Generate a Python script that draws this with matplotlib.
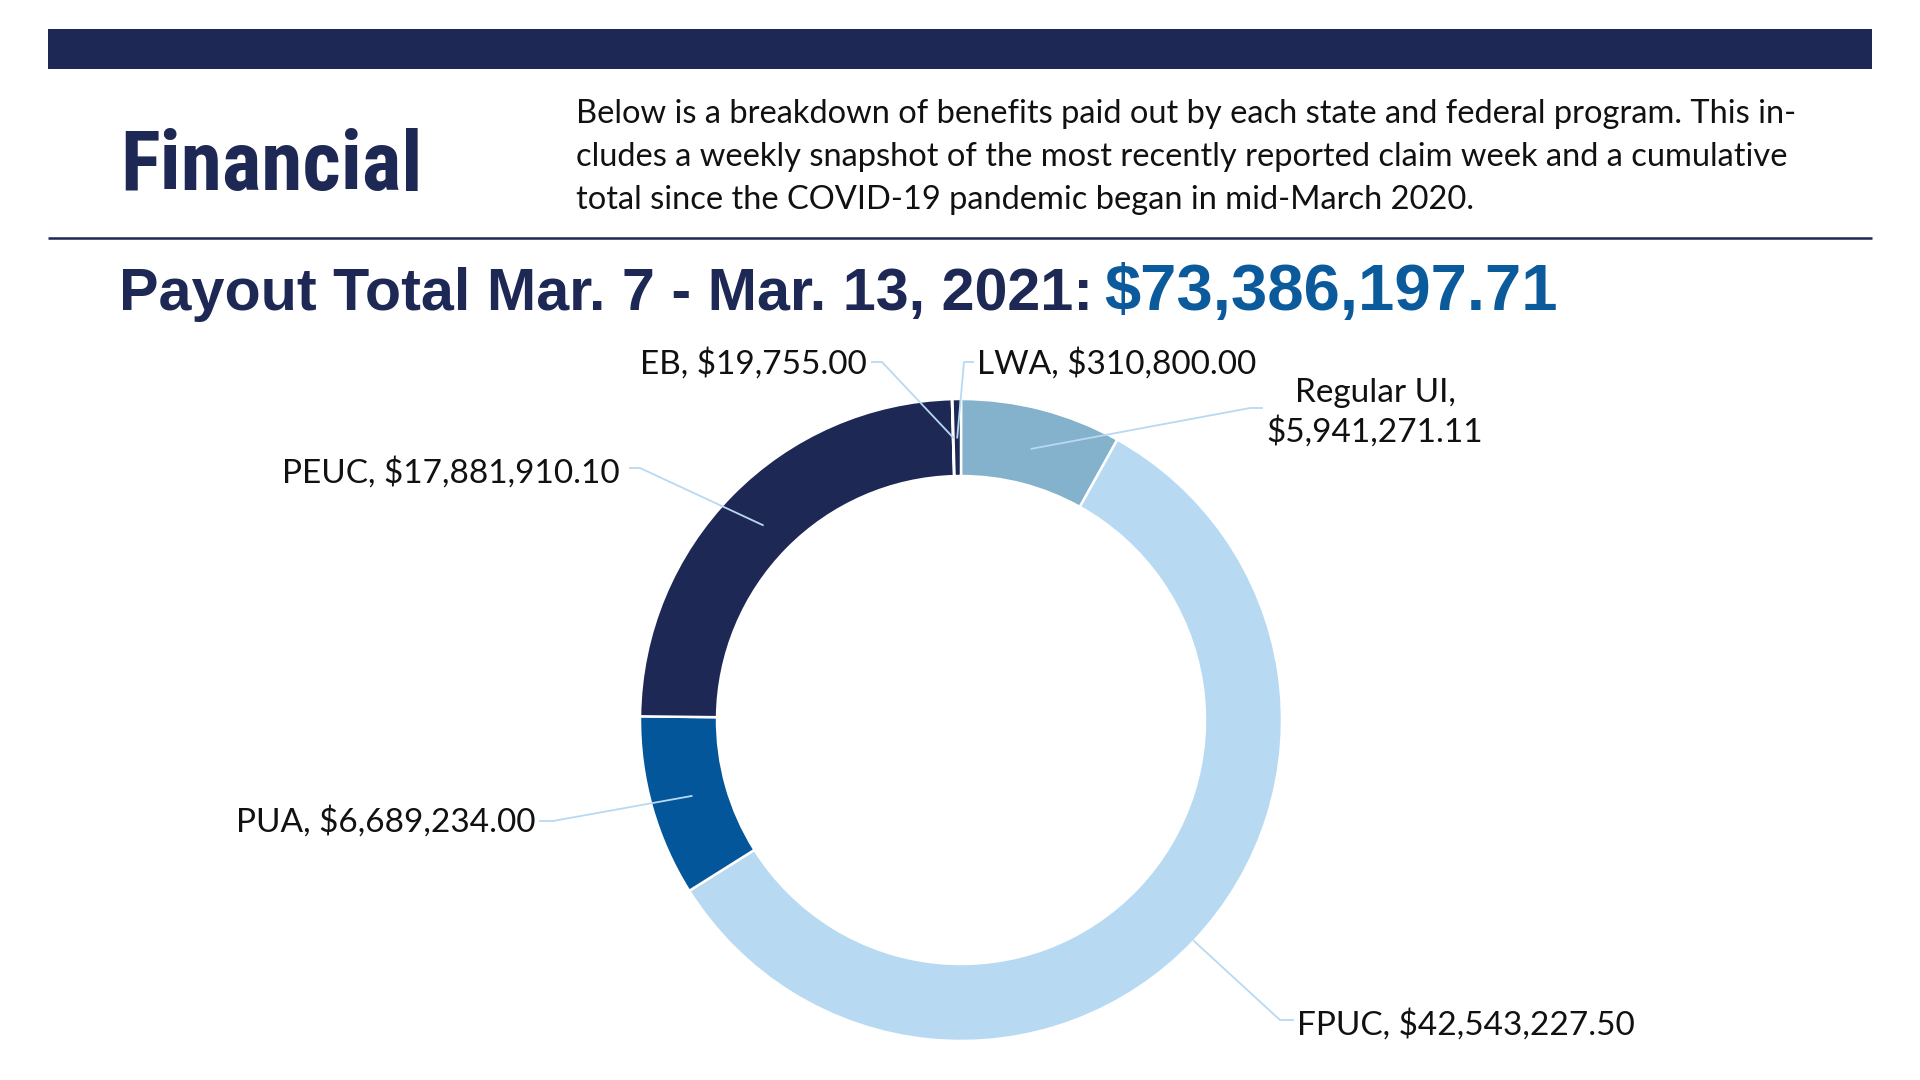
import numpy as np
import matplotlib
matplotlib.use("Agg")
import matplotlib.pyplot as plt
from matplotlib.patches import Rectangle

# ── Data ─────────────────────────────────────────────────────────────────────
programs = ["Regular UI", "FPUC", "PUA", "PEUC", "EB", "LWA"]
payouts = [5941271.11, 42543227.50, 6689234.00, 17881910.10, 19755.00, 310800.00]
slice_colors = ["#84B1CC", "#B8D9F2", "#04569A", "#1D2855", "#1D2855", "#1D2855"]

section_title = "Financial"
desc_lines = [
    "Below is a breakdown of benefits paid out by each state and federal program. This in-",
    "cludes a weekly snapshot of the most recently reported claim week and a cumulative",
    "total since the COVID-19 pandemic began in mid-March 2020.",
]
period = "Mar. 7 - Mar. 13, 2021"

NAVY = "#1D2855"
BLUE = "#0B5A9C"
LEADER = "#B8D9F2"
LABEL_FONT = ["Lato", "DejaVu Sans"]
NARROW_FONT = ["Roboto Condensed", "Liberation Sans Narrow", "DejaVu Sans"]

# label placement in figure pixels (origin top-left):
# text x, baseline y of last line, ha, leader points from text side, anchor radius
label_layout = {
    "Regular UI": ((1375, 442), "center", [(1262, 408), (1250, 408)], 0.873),
    "FPUC":       ((1297, 1035), "left",  [(1293, 1020), (1280, 1020)], 1.0),
    "PUA":        ((535, 832), "right",   [(540, 821), (553, 821)], 0.872),
    "PEUC":       ((620, 483), "right",   [(630, 468), (640, 468)], 0.866),
    "EB":         ((867, 374), "right",   [(872, 362), (882, 362)], 0.88),
    "LWA":        ((977, 374), "left",    [(973, 362), (964, 362)], 0.88),
}

W, H = 1920, 1080
fig = plt.figure(figsize=(W / 100, H / 100), dpi=100)

# ── Donut ────────────────────────────────────────────────────────────────────
cx, cy, R = 961, 720, 321
ax_d = fig.add_axes([(cx - R) / W, (H - cy - R) / H, 2 * R / W, 2 * R / H])
wedges, _ = ax_d.pie(
    payouts, colors=slice_colors, startangle=90, counterclock=False,
    radius=1.0, wedgeprops=dict(width=0.24, edgecolor="white", linewidth=1.8),
)
ax_d.set_xlim(-1, 1)
ax_d.set_ylim(-1, 1)
ax_d.axis("off")

# ── Overlay in pixel coords ──────────────────────────────────────────────────
ax = fig.add_axes([0, 0, 1, 1])
ax.set_xlim(0, W)
ax.set_ylim(H, 0)
ax.axis("off")

ax.add_patch(Rectangle((48, 29), 1824, 40, color=NAVY, lw=0))
ax.plot([48, 1872], [238, 238], color=NAVY, lw=1.8, solid_capstyle="butt")

ax.text(120, 190, section_title, fontsize=60, fontweight="bold", color=NAVY,
        family=NARROW_FONT, fontstretch="condensed", va="baseline")

for i, line in enumerate(desc_lines):
    ax.text(576, 123 + i * 43, line, fontsize=23.5, color="#111111",
            family=LABEL_FONT, va="baseline")

ax.text(119, 310, f"Payout Total {period}:", fontsize=42.7, fontweight="bold",
        color=NAVY, family=["Liberation Sans", "DejaVu Sans"], va="baseline")
ax.text(1104, 310, f"${sum(payouts):,.2f}", fontsize=47, fontweight="bold",
        color=BLUE, family=["Liberation Sans", "DejaVu Sans"], va="baseline")

# ── Labels with leader lines ─────────────────────────────────────────────────
to_overlay = ax.transData.inverted()
for name, val, w in zip(programs, payouts, wedges):
    (tx, ty), ha, pts, r = label_layout[name]
    sep = ",\n" if name == "Regular UI" else ", "
    ax.text(tx, ty, f"{name}{sep}${val:,.2f}", fontsize=24, color="#111111",
            family=LABEL_FONT, ha=ha, va="baseline",
            multialignment="center", linespacing=1.3)
    mid = np.deg2rad((w.theta1 + w.theta2) / 2)
    anchor = ax_d.transData.transform((r * np.cos(mid), r * np.sin(mid)))
    ax_x, ax_y = to_overlay.transform(anchor)
    xs = [p[0] for p in pts] + [ax_x]
    ys = [p[1] for p in pts] + [ax_y]
    ax.plot(xs, ys, color=LEADER, lw=1.3)

fig.savefig("out.png", dpi=100)
